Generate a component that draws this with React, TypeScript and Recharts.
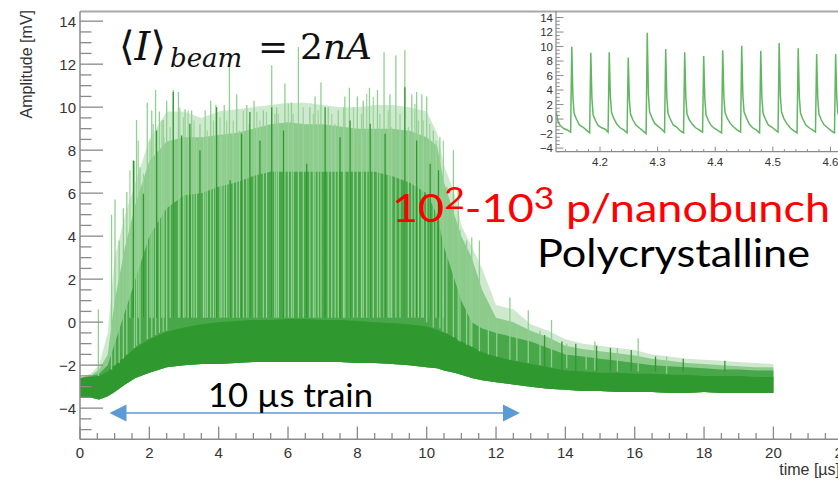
import { ComposedChart, LineChart, Area, Line, XAxis, YAxis, ReferenceLine } from 'recharts';

// envelope sample times [µs] and the band levels [mV]
const envT = [0, 0.3, 0.55, 0.8, 1.0, 1.3, 1.6, 2.0, 2.5, 3.0, 3.5, 4.0, 4.5, 5.0, 5.5, 6.0, 6.5, 7.0, 7.5, 8.0, 8.5, 9.0, 9.5, 10.0, 10.3, 10.5, 10.8, 11.0, 11.3, 11.6, 12.0, 12.5, 13.0, 13.5, 14.0, 14.5, 15.0, 15.5, 16.0, 16.5, 17.0, 17.5, 18.0, 18.5, 19.0, 19.5, 20.0];
const lowEnv = [-3.5, -3.5, -3.6, -3.45, -3.25, -2.9, -2.6, -2.35, -2.1, -2.0, -1.95, -1.95, -1.9, -1.85, -1.85, -1.85, -1.85, -1.85, -1.85, -1.9, -1.9, -1.95, -2.0, -2.1, -2.15, -2.25, -2.35, -2.45, -2.6, -2.7, -2.8, -2.9, -3.0, -3.1, -3.15, -3.2, -3.2, -3.25, -3.25, -3.25, -3.3, -3.3, -3.25, -3.3, -3.3, -3.3, -3.3];
const darkTop = [-2.6, -2.55, -2.5, -2.3, -2.0, -1.6, -1.2, -0.8, -0.45, -0.25, -0.1, 0.0, 0.05, 0.1, 0.1, 0.15, 0.15, 0.1, 0.1, 0.05, 0.0, -0.05, -0.1, -0.2, -0.35, -0.5, -0.7, -0.9, -1.15, -1.4, -1.6, -1.8, -1.95, -2.1, -2.25, -2.3, -2.35, -2.35, -2.4, -2.4, -2.45, -2.45, -2.5, -2.5, -2.5, -2.55, -2.55];
const midTop = [-2.6, -2.5, -2.4, -2.0, -1.0, 0.5, 2.0, 4.0, 5.3, 5.9, 6.0, 6.3, 6.5, 6.8, 7.0, 7.0, 7.0, 7.0, 7.0, 7.0, 7.0, 6.8, 6.5, 6.0, 5.0, 3.5, 2.0, 1.0, 0.0, -0.3, -0.5, -0.7, -0.9, -1.2, -1.5, -1.6, -1.7, -1.8, -1.9, -2.0, -2.05, -2.1, -2.15, -2.2, -2.2, -2.25, -2.25];
const denseTop = [-2.6, -2.5, -2.2, -1.5, 1.0, 3.5, 5.5, 7.5, 8.4, 8.6, 8.6, 8.7, 8.8, 9.0, 9.2, 9.3, 9.2, 9.2, 9.1, 9.0, 9.0, 9.0, 8.9, 8.6, 8.2, 6.5, 5.0, 4.0, 3.0, 1.5, 0.2, 0.0, -0.4, -0.7, -1.1, -1.25, -1.35, -1.45, -1.55, -1.7, -1.8, -1.9, -1.95, -2.0, -2.05, -2.1, -2.1];
const peakEnv = [-2.6, -2.4, -2.0, -0.5, 3.0, 5.0, 6.5, 8.5, 9.8, 9.8, 9.5, 9.8, 9.9, 10.0, 10.1, 10.2, 10.2, 10.1, 10.0, 10.0, 10.1, 10.1, 10.0, 9.8, 8.8, 7.3, 6.0, 4.5, 3.5, 2.5, 0.8, 0.6, -0.1, -0.4, -0.8, -1.0, -1.1, -1.2, -1.3, -1.5, -1.6, -1.7, -1.75, -1.8, -1.85, -1.9, -1.95];

// tall pulses (light traces): time, foot where they leave the dark body, peak
const spikeT = [0.53, 0.91, 1.01, 1.13, 1.25, 1.35, 1.57, 1.63, 1.73, 1.94, 2.07, 2.18, 2.29, 2.4, 2.5, 2.69, 2.84, 3.03, 3.22, 3.46, 3.61, 3.77, 3.92, 4.16, 4.31, 4.52, 4.81, 5.02, 5.29, 5.53, 5.67, 5.91, 6.1, 6.3, 6.63, 6.78, 6.95, 7.16, 7.45, 7.64, 7.77, 8.0, 8.17, 8.35, 8.58, 8.77, 8.94, 9.11, 9.37, 9.57, 9.71, 9.86, 10.0, 10.19, 10.38, 10.47, 10.58, 10.77, 10.91, 10.96, 11.15, 11.25, 11.3, 11.52, 11.78, 12.02, 12.4, 12.6, 12.93, 13.27, 13.6, 14.04, 14.6, 14.85, 15.5, 16.1, 16.92];
const spikeFoot = [-2.5, -2.2, -2.0, -1.9, -1.7, -1.5, -1.2, -1.1, -1.0, -0.8, -0.7, -0.6, -0.5, -0.45, -0.4, 0.2, 0.2, 0.2, 0.2, 0.2, 0.2, 0.2, 0.2, 0.2, 0.2, 0.2, 0.2, 0.2, 0.2, 0.2, 0.2, 0.2, 0.2, 0.2, 0.2, 0.2, 0.2, 0.2, 0.2, 0.2, 0.2, 0.2, 0.2, 0.2, 0.2, 0.2, 0.2, 0.2, 0.2, 0.2, 0.2, 0.2, 0.0, -0.25, -0.3, -0.45, -0.5, -0.7, -0.85, -0.9, -1.05, -1.1, -1.15, -1.35, -1.5, -1.6, -1.75, -1.8, -1.9, -2.0, -2.1, -2.15, -2.2, -2.25, -2.3, -2.3, -2.4];
const spikeV = [0.6, 5.0, 5.7, 3.8, 5.3, 6.05, 7.5, 9.4, 7.2, 10.2, 9.85, 10.8, 9.8, 9.4, 10.3, 10.8, 10.7, 9.9, 9.85, 9.2, 9.85, 10.3, 10.1, 10.1, 11.9, 10.6, 10.1, 10.3, 9.85, 11.95, 10.0, 11.1, 10.2, 12.8, 10.0, 10.5, 11.15, 10.0, 9.85, 10.5, 10.9, 10.5, 10.3, 10.9, 10.8, 12.55, 10.6, 12.4, 12.65, 10.6, 10.7, 10.6, 10.5, 8.9, 8.6, 6.6, 6.3, 8.0, 6.1, 4.3, 3.8, 2.9, 3.95, 3.8, 0.25, -0.05, 1.15, -0.2, 0.55, -0.4, 0.1, -1.0, -1.3, -0.9, -1.2, -0.75, -1.6];
// the comb of shorter light pulses in the train (foot just above the dark body)
const combT = [1.44, 1.68, 1.83, 2.02, 2.11, 2.36, 2.42, 2.6, 2.88, 2.98, 3.12, 3.29, 3.36, 3.56, 3.67, 3.85, 4.04, 4.09, 4.23, 4.42, 4.6, 4.71, 4.88, 5.1, 5.19, 5.38, 5.62, 5.72, 6.01, 6.15, 6.44, 6.73, 6.87, 7.26, 7.36, 7.6, 7.89, 8.12, 8.27, 8.46, 8.65, 8.89, 8.99, 9.23, 9.47, 9.66, 9.76, 9.9, 10.09, 10.27, 10.48];
const combV = [7.06, 8.45, 6.9, 8.45, 9.22, 9.38, 8.61, 9.07, 9.99, 9.53, 9.84, 9.38, 8.45, 8.61, 8.92, 9.38, 9.53, 8.61, 9.38, 9.38, 8.92, 9.84, 9.22, 9.77, 9.38, 9.77, 9.69, 9.69, 10.16, 9.69, 10.0, 9.69, 9.84, 9.69, 9.22, 10.0, 10.0, 9.69, 10.62, 10.47, 9.69, 9.84, 9.07, 9.69, 9.07, 10.16, 9.38, 9.38, 9.22, 8.45, 8.45];
const COMB_FOOT = 0.2;
// darker pulses standing out of the body
const darkSpikeT = [1.54, 1.83, 2.21, 2.69, 2.93, 3.17, 3.46, 3.94, 4.33, 4.66, 4.9, 5.19, 5.53, 5.87, 6.54, 7.07, 7.5, 7.79, 8.37, 8.8, 9.37, 9.71, 10.1, 10.34];
const darkSpikeV = [7.52, 5.97, 8.92, 10.7, 8.68, 9.23, 8.0, 10.0, 6.6, 8.76, 9.77, 8.45, 10.0, 8.92, 7.37, 10.0, 8.6, 9.38, 9.23, 8.76, 10.93, 8.45, 7.37, 7.06];
const DARK_FOOT = 0.2;
// darker pulses in the afterglow tail
const tailSpikeT = [13.4, 13.9, 14.3, 14.9, 15.3, 15.9, 16.6, 17.4, 18.6];
const tailSpikeV = [-0.6, -0.9, -1.0, -1.1, -1.2, -1.3, -1.6, -1.7, -1.8];
const TAIL_FOOT = -2.3;

// inset: zoom of the pulse train, 4.12 - 4.62 µs
const insetWave: [number, number][] = [
  [4.124, 0.9], [4.127, -0.3], [4.131, -0.9], [4.137, -1.3], [4.143, -1.5], [4.149, -1.8],
  [4.151, 9.97], [4.153, 3.0], [4.155, 0.8], [4.159, 0.0], [4.164, -0.8], [4.170, -1.1], [4.176, -1.5], [4.182, -1.9],
  [4.184, 9.15], [4.186, 2.8], [4.188, 0.6], [4.192, -0.2], [4.197, -0.9], [4.203, -1.2], [4.209, -1.4], [4.214, -1.8],
  [4.216, 9.2], [4.218, 3.1], [4.220, 0.9], [4.224, 0.1], [4.229, -0.7], [4.235, -1.2], [4.241, -1.5], [4.247, -1.9],
  [4.249, 8.5], [4.251, 2.6], [4.253, 0.7], [4.257, -0.1], [4.262, -0.8], [4.268, -1.2], [4.274, -1.6], [4.280, -2.0],
  [4.282, 11.9], [4.284, 3.5], [4.286, 1.0], [4.290, 0.2], [4.295, -0.6], [4.301, -1.0], [4.307, -1.4], [4.312, -1.8],
  [4.314, 9.66], [4.316, 3.0], [4.318, 0.8], [4.322, 0.0], [4.327, -0.8], [4.333, -1.1], [4.339, -1.6], [4.345, -1.9],
  [4.347, 9.2], [4.349, 2.9], [4.351, 0.7], [4.355, -0.1], [4.360, -0.7], [4.366, -1.2], [4.372, -1.5], [4.378, -1.8],
  [4.380, 8.7], [4.382, 2.7], [4.384, 0.6], [4.388, -0.2], [4.393, -0.9], [4.399, -1.3], [4.405, -1.6], [4.411, -1.9],
  [4.413, 9.5], [4.415, 3.0], [4.417, 0.9], [4.421, 0.1], [4.426, -0.6], [4.432, -1.1], [4.438, -1.5], [4.444, -1.8],
  [4.446, 10.1], [4.448, 3.2], [4.450, 1.0], [4.454, 0.2], [4.459, -0.7], [4.465, -1.2], [4.471, -1.5], [4.477, -1.9],
  [4.479, 9.4], [4.481, 2.9], [4.483, 0.8], [4.487, 0.0], [4.492, -0.8], [4.498, -1.1], [4.504, -1.5], [4.509, -1.8],
  [4.511, 10.5], [4.513, 3.3], [4.515, 1.0], [4.519, 0.1], [4.524, -0.6], [4.530, -1.2], [4.536, -1.6], [4.542, -1.9],
  [4.544, 9.75], [4.546, 3.0], [4.548, 0.8], [4.552, 0.0], [4.557, -0.8], [4.563, -1.2], [4.569, -1.5], [4.574, -1.8],
  [4.576, 8.97], [4.578, 2.8], [4.580, 0.7], [4.584, -0.1], [4.589, -0.8], [4.595, -1.2], [4.601, -1.6], [4.607, -1.9],
  [4.609, 8.97], [4.611, 2.8], [4.613, 0.8], [4.617, 0.0], [4.622, -0.7], [4.628, -1.2],
];

const xMajor = [0, 2, 4, 6, 8, 10, 12, 14, 16, 18, 20, 22];
const yMajor = [-4, -2, 0, 2, 4, 6, 8, 10, 12, 14];
const insetXMajor = [4.2, 4.3, 4.4, 4.5, 4.6];
const insetYMajor = [-4, -2, 0, 2, 4, 6, 8, 10, 12, 14];

const xTicks = Array.from({ length: 45 }, (_, i) => i * 0.5);
const yTicks = Array.from({ length: 39 }, (_, i) => -5 + i * 0.5);
const insetXTicks = Array.from({ length: 25 }, (_, i) => Math.round((4.14 + i * 0.02) * 100) / 100);
const insetYTicks = Array.from({ length: 38 }, (_, i) => -4.5 + i * 0.5);

const DARK = '#2f982f';
const AXIS = '#8a8a8a';
const LABEL = '#333';

const rows = envT.map((t, i) => ({ t, low: lowEnv[i], dark: darkTop[i], mid: midTop[i], dense: denseTop[i], peak: peakEnv[i] }));
const pulses = (ts: number[], vs: number[], foot: (i: number) => number) =>
  ts.flatMap((t, i) => [{ t, v: foot(i) }, { t, v: vs[i] }, { t, v: null }]);
const spikeData = pulses(spikeT, spikeV, i => spikeFoot[i]);
const combData = pulses(combT, combV, () => COMB_FOOT);
const darkSpikeData = pulses(darkSpikeT, darkSpikeV, () => DARK_FOOT);
const tailSpikeData = pulses(tailSpikeT, tailSpikeV, () => TAIL_FOOT);
const insetData = insetWave.map(([t, v]) => ({ t, v }));

const minus = (v: number) => String(v).replace('-', '\u2212');
const isIn = (v: number, list: number[]) => list.some(m => Math.abs(m - v) < 1e-6);

const MainXTick = ({ x, y, payload }: any) => {
  const major = isIn(payload.value, xMajor);
  return (
    <g>
      <line x1={x} x2={x} y1={y} y2={y - (major ? 12.8 : 6.4)} stroke={AXIS} strokeWidth={1.3} />
      {major && <text x={x} y={y + 19} textAnchor="middle" fontSize={15} fill={LABEL}>{minus(payload.value)}</text>}
    </g>
  );
};

const MainYTick = ({ x, y, payload }: any) => {
  const major = isIn(payload.value, yMajor);
  return (
    <g>
      <line x1={x} x2={x + (major ? 23 : 11.5)} y1={y} y2={y} stroke={AXIS} strokeWidth={1.3} />
      {major && <text x={x - 4} y={y + 5.5} textAnchor="end" fontSize={15} fill={LABEL}>{minus(payload.value)}</text>}
    </g>
  );
};

const InsetXTick = ({ x, y, payload }: any) => {
  const major = isIn(payload.value, insetXMajor);
  return (
    <g>
      <line x1={x} x2={x} y1={y} y2={y - (major ? 5 : 2.5)} stroke={AXIS} strokeWidth={1} />
      {major && <text x={x} y={y + 14} textAnchor="middle" fontSize={11.5} fill={LABEL}>{payload.value.toFixed(1)}</text>}
    </g>
  );
};

const InsetYTick = ({ x, y, payload }: any) => {
  const major = isIn(payload.value, insetYMajor);
  return (
    <g>
      <line x1={x} x2={x + (major ? 7.5 : 3.8)} y1={y} y2={y} stroke={AXIS} strokeWidth={1} />
      {major && <text x={x - 3} y={y + 4} textAnchor="end" fontSize={11.5} fill={LABEL}>{minus(payload.value)}</text>}
    </g>
  );
};

const DoubleArrow = ({ x1, y1, x2, y2 }: any) => (
  <g>
    <line x1={x1 + 14} y1={y1} x2={x2 - 14} y2={y2} stroke="#5b9bd5" strokeWidth={1.6} />
    <polygon points={`${x1},${y1} ${x1 + 17},${y1 - 8.5} ${x1 + 17},${y1 + 8.5}`} fill="#5b9bd5" />
    <polygon points={`${x2},${y2} ${x2 - 17},${y2 - 8.5} ${x2 - 17},${y2 + 8.5}`} fill="#5b9bd5" />
  </g>
);

const areaProps = { type: 'linear' as const, stroke: 'none', fillOpacity: 1, isAnimationActive: false, dot: false, activeDot: false };
const pulseProps = { type: 'linear' as const, dataKey: 'v', dot: false, activeDot: false, connectNulls: false, isAnimationActive: false };

export default function App() {
  return (
    <div style={{ position: 'absolute', left: 0, top: 0, width: 838, height: 481, overflow: 'hidden', background: '#fff', fontFamily: '"Liberation Sans", Arial, sans-serif' }}>
      <div style={{ position: 'absolute', left: 0, top: 0 }}>
        <ComposedChart width={880} height={481} data={rows} margin={{ top: 11.5, right: 23.4, bottom: 0, left: 0 }}>
          <XAxis dataKey="t" type="number" domain={[0, 22.4]} ticks={xTicks} interval={0} allowDataOverflow
            height={41.7} tickSize={0} tickMargin={0} tickLine={false} axisLine={{ stroke: AXIS, strokeWidth: 1.5 }}
            tick={(p: any) => <MainXTick {...p} />} />
          <YAxis type="number" domain={[-5.45, 14.45]} ticks={yTicks} interval={0} allowDataOverflow
            width={80} tickSize={0} tickMargin={0} tickLine={false} axisLine={{ stroke: AXIS, strokeWidth: 1.5 }}
            tick={(p: any) => <MainYTick {...p} />} />
          <ReferenceLine y={14.45} stroke="#a8a8a8" strokeWidth={2} ifOverflow="visible" />
          <Area {...areaProps} dataKey={(d: any) => [d.low, d.peak]} fill="#cfe9cf" />
          <Area {...areaProps} dataKey={(d: any) => [d.low, d.dense]} fill="#8dcb8d" />
          <Area {...areaProps} dataKey={(d: any) => [d.low, d.mid]} fill="#48a748" />
          <Area {...areaProps} dataKey={(d: any) => [d.low, d.dark]} fill={DARK} />
          <Line {...pulseProps} data={combData} stroke="#9bd49b" strokeWidth={1.2} />
          <Line {...pulseProps} data={spikeData} stroke="#8fd08f" strokeWidth={1.3} />
          <Line {...pulseProps} data={darkSpikeData} stroke={DARK} strokeWidth={1.3} />
          <Line {...pulseProps} data={tailSpikeData} stroke={DARK} strokeWidth={1.3} />
          <ReferenceLine segment={[{ x: 0.85, y: -4.23 }, { x: 12.69, y: -4.23 }]} ifOverflow="visible" shape={(p: any) => <DoubleArrow {...p} />} />
        </ComposedChart>
      </div>

      <div style={{ position: 'absolute', left: 500, top: 0 }}>
        <LineChart width={380} height={175} data={insetData} margin={{ top: 11, right: 0, bottom: 0, left: 0 }}>
          <XAxis dataKey="t" type="number" domain={[4.1236, 4.686]} ticks={insetXTicks} interval={0} allowDataOverflow
            height={23.3} tickSize={0} tickMargin={0} tickLine={false} axisLine={{ stroke: AXIS, strokeWidth: 1.2 }}
            tick={(p: any) => <InsetXTick {...p} />} />
          <YAxis type="number" domain={[-4.5, 14.9]} ticks={insetYTicks} interval={0} allowDataOverflow
            width={56} tickSize={0} tickMargin={0} tickLine={false} axisLine={{ stroke: AXIS, strokeWidth: 1.2 }}
            tick={(p: any) => <InsetYTick {...p} />} />
          <Line type="linear" dataKey="v" stroke="#62b662" strokeWidth={1.5} dot={false} activeDot={false} isAnimationActive={false} />
        </LineChart>
      </div>

      <svg width={838} height={481} style={{ position: 'absolute', left: 0, top: 0, pointerEvents: 'none' }}>
        <text transform="translate(32,10) rotate(-90)" textAnchor="end" fontSize={16} fill={LABEL}>Amplitude [mV]</text>
        <text x={840} y={475} textAnchor="end" fontSize={16} fill={LABEL}>time [µs]</text>

        <text y={60} fontFamily='"DejaVu Serif", serif' fontSize={40} fill="#111">
          <tspan x={119}>⟨</tspan>
          <tspan fontStyle="italic">I</tspan>
          <tspan>⟩</tspan>
          <tspan x={170} y={67} fontSize={26} fontStyle="italic">beam</tspan>
          <tspan x={258} y={59} fontSize={36}>=</tspan>
          <tspan x={300} fontSize={36}>2</tspan>
          <tspan fontSize={36} fontStyle="italic">nA</tspan>
        </text>

        <text x={392} y={222} fontFamily="Lato, sans-serif" fontSize={38} fill="#ff0000" textLength={438} lengthAdjust="spacingAndGlyphs">
          10<tspan dy={-13} fontSize={30}>2</tspan><tspan dy={13}>-10</tspan><tspan dy={-13} fontSize={30}>3</tspan><tspan dy={13}> p/nanobunch</tspan>
        </text>
        <text x={537} y={267} fontFamily="Lato, sans-serif" fontSize={38} fill="#000" textLength={273} lengthAdjust="spacingAndGlyphs">Polycrystalline</text>
        <text x={208} y={407} fontFamily="Lato, sans-serif" fontSize={33.5} fill="#000" textLength={165} lengthAdjust="spacingAndGlyphs">10 µs train</text>
      </svg>
    </div>
  );
}
